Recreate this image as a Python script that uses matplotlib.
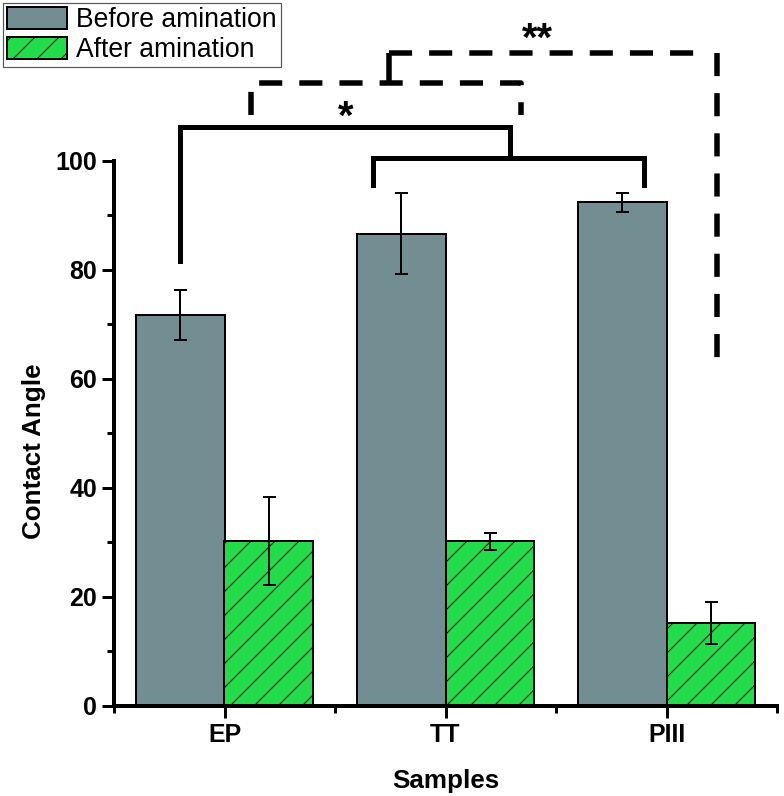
import numpy as np
import matplotlib
matplotlib.use("Agg")
import matplotlib.pyplot as plt

plt.rcParams['font.family'] = ['Liberation Sans', 'DejaVu Sans']

# data
samples = ["EP", "TT", "PIII"]
before = [71.7, 86.6, 92.3]
before_err = [4.6, 7.5, 1.7]
after = [30.2, 30.1, 15.1]
after_err = [8.0, 1.5, 3.8]

grey = "#738e93"
green = "#22dc4a"

DPI = 72
fig = plt.figure(figsize=(784 / DPI, 796 / DPI), dpi=DPI)
ax = fig.add_axes([114 / 784, 1 - 705.5 / 796, 663 / 784, 545 / 796])

x = np.arange(1, len(samples) + 1)
w = 0.4
b1 = ax.bar(x - w / 2, before, w, color=grey, edgecolor="black", linewidth=2,
            label="Before amination", zorder=2)
b2 = ax.bar(x + w / 2, after, w, color=green, edgecolor="black", linewidth=2,
            hatch="/", label="After amination", zorder=2)
ax.errorbar(x - w / 2, before, yerr=before_err, fmt="none", ecolor="black",
            elinewidth=2, capsize=6.5, capthick=2, zorder=3)
ax.errorbar(x + w / 2, after, yerr=after_err, fmt="none", ecolor="black",
            elinewidth=2, capsize=6.5, capthick=2, zorder=3)

ax.set_xlim(0.5, 3.5)
ax.set_ylim(0, 100)
ax.set_xticks(x)
ax.set_xticklabels(samples)
ax.set_xticks([0.5, 1.5, 2.5, 3.5], minor=True)
ax.set_yticks(np.arange(0, 101, 20))
ax.set_yticks(np.arange(10, 100, 20), minor=True)
for s in ["top", "right"]:
    ax.spines[s].set_visible(False)
for s in ["left", "bottom"]:
    ax.spines[s].set_linewidth(4)
ax.tick_params(which="major", direction="out", length=12, width=3, labelsize=25, pad=5)
ax.tick_params(which="minor", direction="out", length=7, width=3)
for lab in ax.get_xticklabels() + ax.get_yticklabels():
    lab.set_fontweight("bold")

ax.set_xlabel("Samples", fontsize=26, fontweight="bold")
ax.set_ylabel("Contact Angle", fontsize=26, fontweight="bold")
ax.xaxis.set_label_coords(0.5, -0.116)
ax.yaxis.set_label_coords(-0.103, 0.467)

# significance brackets (solid)
kw = dict(color="black", lw=5, clip_on=False, solid_joinstyle="miter", zorder=4)
ax.plot([0.8, 0.8, 2.29, 2.29], [81.6, 106.1, 106.1, 100.4], **kw)
ax.plot([1.67, 1.67, 2.90, 2.90], [95.5, 100.4, 100.4, 95.5], **kw)

# dashed brackets
dkw = dict(color="black", lw=5.5, clip_on=False, dashes=(4.2, 3.1),
           dash_capstyle="butt", zorder=4)
ax.plot([1.12, 1.12, 2.34, 2.34], [108.3, 114.2, 114.2, 108.3], **dkw)
ax.plot([1.745, 1.745], [114.2, 119.7], color="black", lw=5.5, clip_on=False,
        solid_capstyle="butt", zorder=4)
ax.plot([1.745, 3.15], [119.7, 119.7], **dkw)
ax.plot([3.23, 3.23], [119.7, 61.5], **dkw)

ax.text(1.548, 105.9, "*", fontsize=40, fontweight="bold", ha="center", va="baseline")
ax.text(2.414, 120.2, "**", fontsize=40, fontweight="bold", ha="center", va="baseline")

leg = fig.legend(handles=[b1, b2], loc="upper left",
                 bbox_to_anchor=(3 / 784, 1 - 3 / 796), fontsize=26.5,
                 handlelength=2.26, handleheight=0.87, handletextpad=0.35,
                 borderpad=0.15, labelspacing=0.15, borderaxespad=0,
                 fancybox=False, edgecolor="#4b5b61", framealpha=1)
leg.get_frame().set_linewidth(1.2)

fig.savefig("out.png", dpi=DPI)
